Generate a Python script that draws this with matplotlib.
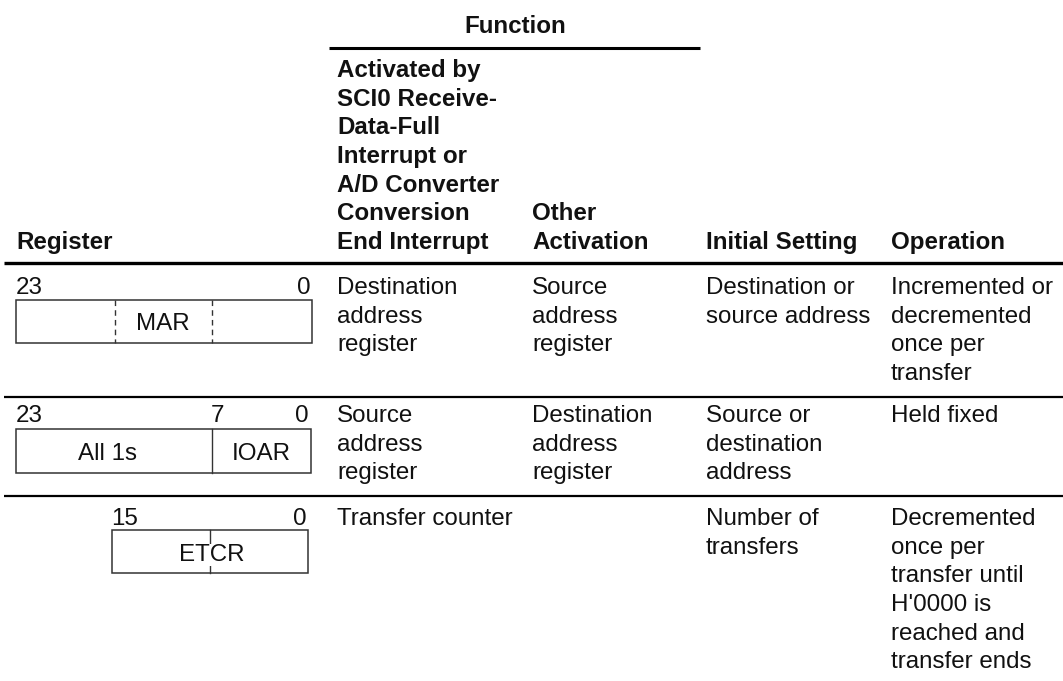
import matplotlib.pyplot as plt
from matplotlib.patches import Rectangle

plt.rcParams['font.family'] = ['Liberation Sans', 'DejaVu Sans']

# table text
group_title = 'Function'
headers = [
    ['Register'],
    ['Activated by', 'SCI0 Receive-', 'Data-Full', 'Interrupt or',
     'A/D Converter', 'Conversion', 'End Interrupt'],
    ['Other', 'Activation'],
    ['Initial Setting'],
    ['Operation'],
]
rows = [
    [['Destination', 'address', 'register'],
     ['Source', 'address', 'register'],
     ['Destination or', 'source address'],
     ['Incremented or', 'decremented', 'once per', 'transfer']],
    [['Source', 'address', 'register'],
     ['Destination', 'address', 'register'],
     ['Source or', 'destination', 'address'],
     ['Held fixed']],
    [['Transfer counter'],
     [],
     ['Number of', 'transfers'],
     ['Decremented', 'once per', 'transfer until', "H'0000 is",
      'reached and', 'transfer ends']],
]

# register diagrams: field names
field_names = ['MAR', ['All 1s', 'IOAR'], 'ETCR']

W, H = 1063, 681
fig = plt.figure(figsize=(W / 100, H / 100), dpi=100)
ax = fig.add_axes([0, 0, 1, 1])
ax.set_xlim(0, W)
ax.set_ylim(H, 0)
ax.axis('off')

fs = 17.4
lh = 28.7
cap_half = 8.6
col_x = [16, 337, 532, 706, 891]
ink = '#111111'


def put(x, y, s, ha='left', bold=False, **kw):
    ax.text(x, y, s, fontsize=fs, ha=ha, va='baseline', color=ink,
            fontweight='bold' if bold else 'normal', **kw)


put(515, 33, group_title, ha='center', bold=True)
ax.plot([329, 700], [48, 48], color='black', lw=2.2, solid_capstyle='butt')

header_base = 249
for x, lines in zip(col_x, headers):
    for i, line in enumerate(lines):
        put(x, header_base - (len(lines) - 1 - i) * lh, line, bold=True)

ax.plot([4, W], [263, 263], color='black', lw=2.4, solid_capstyle='butt')
for y in [397, 496]:
    ax.plot([4, W], [y, y], color='black', lw=1.6, solid_capstyle='butt')

row_base = [294, 422, 525]
for r, cells in enumerate(rows):
    for x, lines in zip(col_x[1:], cells):
        for i, line in enumerate(lines):
            put(x, row_base[r] + i * lh, line)

box_kw = dict(fill=False, edgecolor='#333333', lw=1.1)

# row 1: MAR
y0 = row_base[0]
put(16, y0, '23')
put(310, y0, '0', ha='right')
ax.add_patch(Rectangle((16, 300), 296, 43, **box_kw))
for xd in [115, 212]:
    ax.plot([xd, xd], [300, 343], color='#333333', lw=1.0, ls=(0, (4, 3)))
put(163, 321.5 + cap_half, field_names[0], ha='center')

# row 2: All 1s / IOAR
y0 = row_base[1]
put(16, y0, '23')
put(218, y0, '7', ha='center')
put(309, y0, '0', ha='right')
ax.add_patch(Rectangle((16, 429), 295, 44, **box_kw))
ax.plot([212, 212], [429, 473], color='#333333', lw=1.0)
put(107, 451 + cap_half, field_names[1][0], ha='center')
put(261, 451 + cap_half, field_names[1][1], ha='center')

# row 3: ETCR
y0 = row_base[2]
put(124.5, y0, '15', ha='center')
put(307, y0, '0', ha='right')
ax.add_patch(Rectangle((112, 530), 196, 43, **box_kw))
ax.plot([210, 210], [530, 573], color='#333333', lw=1.0)
put(212, 552 + cap_half, field_names[2], ha='center',
    bbox=dict(facecolor='white', edgecolor='none', pad=0))

fig.savefig('out.png', dpi=100)
